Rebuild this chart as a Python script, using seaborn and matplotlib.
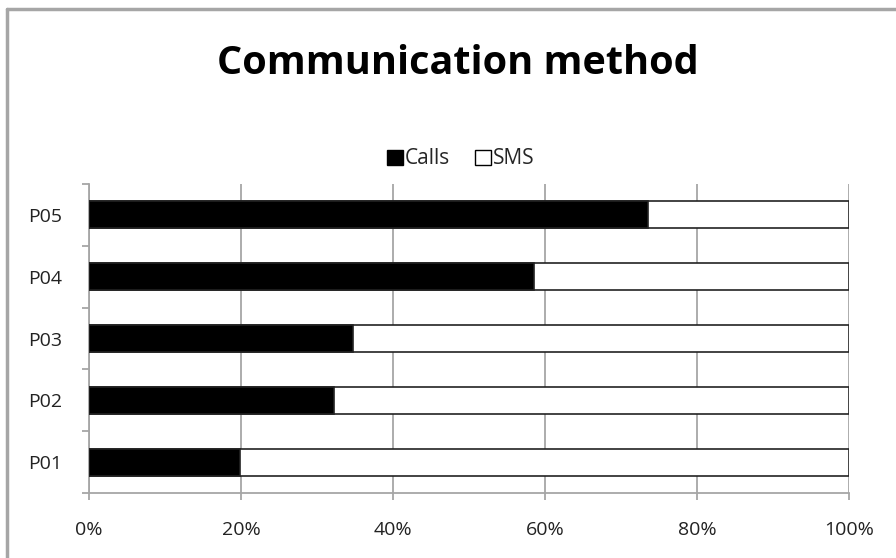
import numpy as np
import pandas as pd
import matplotlib
matplotlib.use("Agg")
import matplotlib.pyplot as plt
import seaborn as sns
from matplotlib.patches import Patch
from matplotlib.lines import Line2D
from matplotlib.ticker import FixedLocator, PercentFormatter

# data
people = ["P01", "P02", "P03", "P04", "P05"]
calls_share = [19.9, 32.2, 34.8, 58.5, 73.5]
sms_share = [100 - c for c in calls_share]

df = pd.DataFrame({"person": people, "calls": calls_share, "sms": sms_share})
df["total"] = df["calls"] + df["sms"]
order = people[::-1]

sns.set_style("white")
plt.rcParams["font.family"] = ["Open Sans", "DejaVu Sans"]

grey = "#a6a6a6"
fig = plt.figure(figsize=(8.96, 5.58), dpi=100)
ax = fig.add_axes([89 / 896, 1 - 493 / 558, (849 - 89) / 896, (493 - 184) / 558])

# white SMS bar underneath (spans to 100%), black calls bar on top
sns.barplot(data=df, x="total", y="person", order=order, orient="h",
            color="white", edgecolor="#222222", linewidth=1.2, width=0.44,
            saturation=1, ax=ax, zorder=3)
sns.barplot(data=df, x="calls", y="person", order=order, orient="h",
            color="black", edgecolor="#222222", linewidth=1.2, width=0.44,
            saturation=1, ax=ax, zorder=4)

ax.set_xlim(0, 100)
ax.set_ylim(4.5, -0.5)
ax.set_xlabel("")
ax.set_ylabel("")

ax.xaxis.set_major_locator(FixedLocator([0, 20, 40, 60, 80, 100]))
ax.xaxis.set_major_formatter(PercentFormatter(decimals=0))
ax.grid(axis="x", color=grey, linewidth=1.3, zorder=0)
ax.set_axisbelow(True)

ax.yaxis.set_minor_locator(FixedLocator(np.arange(-0.5, 5, 1)))
ax.tick_params(axis="y", which="major", length=0, pad=19, labelsize=14, labelcolor="#222222")
ax.tick_params(axis="y", which="minor", left=True, length=5, width=1.3, color=grey)
ax.tick_params(axis="x", which="major", bottom=True, length=5, width=1.3, color=grey,
               pad=15, labelsize=14, labelcolor="#222222")

for s in ["top", "right"]:
    ax.spines[s].set_visible(False)
for s in ["left", "bottom"]:
    ax.spines[s].set_color(grey)
    ax.spines[s].set_linewidth(1.3)

fig.text(457.5 / 896, 1 - 63 / 558, "Communication method", ha="center", va="center",
         fontsize=28.5, fontweight="bold", color="black")

handles = [Patch(facecolor="black", edgecolor="black", label="Calls"),
           Patch(facecolor="white", edgecolor="black", label="SMS")]
fig.legend(handles=handles, loc="center", bbox_to_anchor=(461 / 896, 1 - 159 / 558),
           ncol=2, frameon=False, fontsize=15, handlelength=0.75, handleheight=0.75,
           handletextpad=0.1, columnspacing=1.2)

# chart frame (top and left edges visible)
fig.add_artist(Line2D([7 / 896, 7 / 896], [0, 1 - 9 / 558], color=grey, linewidth=2.5,
                      transform=fig.transFigure))
fig.add_artist(Line2D([7 / 896, 1], [1 - 9 / 558, 1 - 9 / 558], color=grey, linewidth=2.5,
                      transform=fig.transFigure))

fig.savefig("out.png", dpi=100)
